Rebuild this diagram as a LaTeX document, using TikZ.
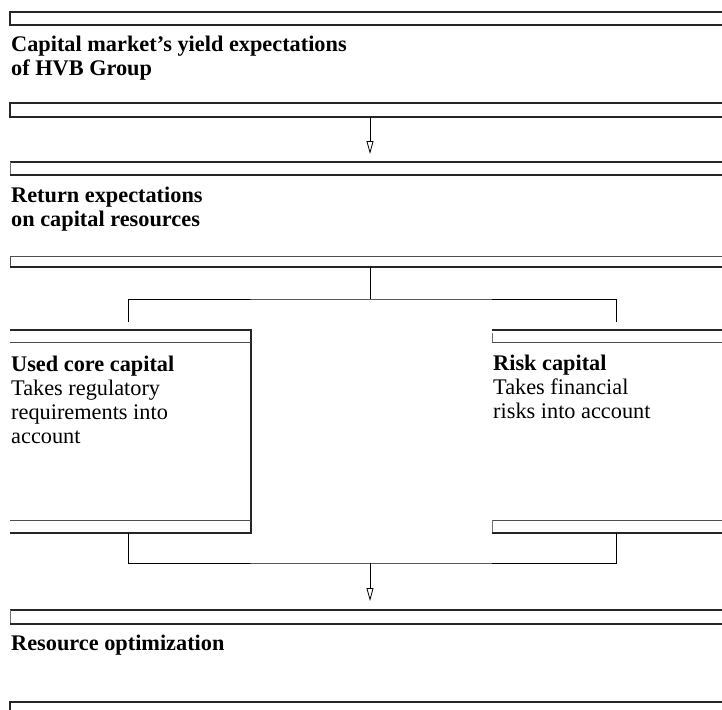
\documentclass[tikz,border=0pt]{standalone}
\usepackage{fontspec}
\setmainfont{Liberation Serif}
\usetikzlibrary{arrows.meta}
\begin{document}
\begin{tikzpicture}[x=1pt,y=-1pt,
  stripline/.style={line width=1.1pt, black!85},
  innerline/.style={line width=0.6pt, black!70},
  tickline/.style={line width=0.5pt, black!55},
  conn/.style={line width=1pt},
  arr/.style={line width=0.6pt, -{Triangle[open,length=13pt,width=7pt,line width=0.8pt]}},
  lbl/.style={anchor=base west, inner sep=0pt, align=left,
    font=\fontsize{22.3}{24}\selectfont},
  title/.style={lbl, font=\fontsize{22.3}{24}\selectfont\bfseries}]
\useasboundingbox (0,0) rectangle (722,709);
\fill[white] (0,0) rectangle (722,709);
\clip (0,0) rectangle (722,709);

% band 1: capital market
\draw[stripline] (730,12) -- (10,12) -- (10,25) -- (730,25);
\node[title] (capital) at (11,75) {Capital market's yield expectations\\of HVB Group};
\draw[stripline] (730,103) -- (10,103) -- (10,117) -- (730,117);

% band 2: return expectations
\draw[stripline] (730,162) -- (10,162);
\draw[tickline] (10,162) -- (10,175);
\draw[stripline] (10,175) -- (730,175);
\node[title] (return) at (11,226) {Return expectations\\on capital resources};
\draw[innerline] (730,256) -- (10,256) -- (10,267);
\draw[stripline] (10,267) -- (730,267);

% left box: used core capital
\draw[stripline] (10,330) -- (251,330) -- (251,533) -- (10,533);
\draw[innerline] (10,342) -- (251,342);
\draw[innerline] (10,520) -- (251,520);
\node[lbl] (core) at (11,443) {\textbf{Used core capital}\\Takes regulatory\\requirements into\\account};

% right box: risk capital
\draw[stripline] (492,330) -- (730,330);
\draw[innerline] (492,342) -- (730,342);
\draw[tickline] (492,333) -- (492,342);
\draw[innerline] (492,520) -- (730,520);
\draw[tickline] (492,520) -- (492,533);
\draw[stripline] (492,533) -- (730,533);
\node[lbl] (risk) at (493,418) {\textbf{Risk capital}\\Takes financial\\risks into account};

% band 3: resource optimization
\draw[stripline] (730,610) -- (10,610);
\draw[tickline] (10,610) -- (10,624);
\draw[stripline] (10,624) -- (730,624);
\node[title] (resource) at (11,650) {Resource optimization};
\draw[stripline] (10,712) -- (10,702) -- (730,702);

% connection points
\coordinate (capB) at (370,117);
\coordinate (retT) at (370,154);
\coordinate (retB) at (370,267);
\coordinate (split) at (370,299);
\coordinate (coreT) at (128,322);
\coordinate (riskT) at (616,322);
\coordinate (coreB) at (128,533);
\coordinate (riskB) at (616,533);
\coordinate (join) at (370,563);
\coordinate (resT) at (370,601);

% connectors
\draw[arr] (capB) -- (retT);
\draw[conn] (retB) -- (split);
\draw[conn] (coreT) |- (split) -| (riskT);
\draw[conn] (coreB) |- (join) -| (riskB);
\draw[arr] (join) -- (resT);
\end{tikzpicture}
\end{document}
